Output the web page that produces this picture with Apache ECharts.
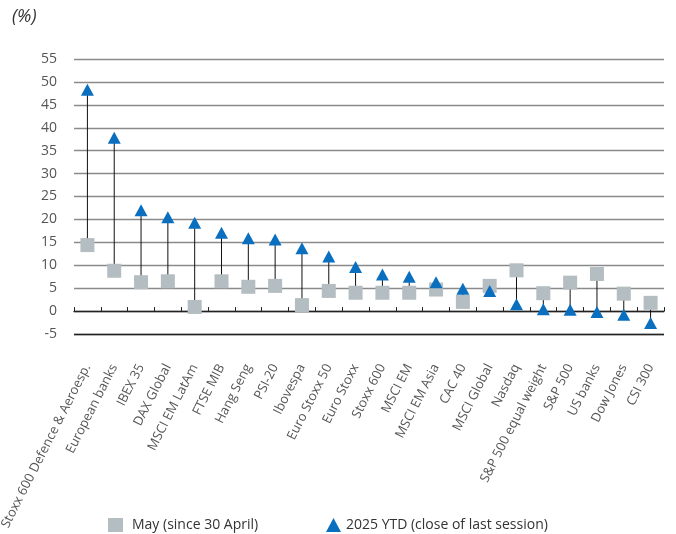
<!DOCTYPE html>
<html>
<head>
<meta charset="utf-8">
<script src="https://cdn.jsdelivr.net/npm/echarts@6/dist/echarts.min.js"></script>
<style>
  html, body { margin: 0; padding: 0; background: #fff; }
  #chart { width: 676px; height: 534px; }
</style>
</head>
<body>
<div id="chart"></div>
<script>
// Index names, ordered by year-to-date performance
const categories = [
  'Stoxx 600 Defence & Aeroesp.', 'European banks', 'IBEX 35', 'DAX Global',
  'MSCI EM LatAm', 'FTSE MIB', 'Hang Seng', 'PSI-20', 'Ibovespa',
  'Euro Stoxx 50', 'Euro Stoxx', 'Stoxx 600', 'MSCI EM', 'MSCI EM Asia',
  'CAC 40', 'MSCI Global', 'Nasdaq', 'S&P 500 equal weight', 'S&P 500',
  'US banks', 'Dow Jones', 'CSI 300'
];

// Change in May, since 30 April (%)
const mayValues = [
  14.4, 8.8, 6.3, 6.5, 0.9, 6.5, 5.3, 5.5, 1.3, 4.4, 4.0,
  4.0, 4.0, 4.7, 2.0, 5.5, 8.9, 3.9, 6.2, 8.1, 3.8, 1.8
];

// 2025 year to date, close of last session (%)
const ytdValues = [
  48.3, 37.8, 22.0, 20.5, 19.3, 17.1, 15.9, 15.6, 13.7, 11.9, 9.6,
  8.0, 7.5, 6.3, 4.9, 4.4, 1.5, 0.4, 0.3, -0.2, -0.8, -2.6
];

const yTicks = { min: -5, max: 55, step: 5 };

const seriesNames = ['May (since 30 April)', '2025 YTD (close of last session)'];

const FONT = '"Open Sans", sans-serif';

const chart = echarts.init(document.getElementById('chart'), null, { renderer: 'canvas' });

// connector stems between the two readings of each index
const stemData = categories.map((c, i) => [i, mayValues[i], ytdValues[i]]);

const legendText = { fontFamily: FONT, fontSize: 14, color: '#333333' };

chart.setOption({
  animation: false,
  backgroundColor: '#ffffff',
  textStyle: { fontFamily: FONT },
  graphic: [{
    type: 'text',
    left: 12,
    top: 8,
    style: {
      text: '(%)',
      font: 'italic 18px ' + FONT,
      fill: '#333333'
    }
  }],
  grid: { left: 74, right: 12, top: 59, bottom: 200, outerBoundsMode: 'none', containLabel: false },
  legend: [
    {
      left: 108,
      top: 518,
      padding: 0,
      itemWidth: 15,
      itemHeight: 14,
      textStyle: Object.assign({ padding: [0, 0, 0, 4] }, legendText),
      data: [{ name: seriesNames[0], icon: 'rect' }]
    },
    {
      left: 326,
      top: 518,
      padding: 0,
      itemWidth: 15,
      itemHeight: 14,
      textStyle: legendText,
      data: [{ name: seriesNames[1], icon: 'triangle' }]
    }
  ],
  xAxis: {
    // sits on the zero line, tick marks pointing up, names hang below the frame
    type: 'category',
    data: categories,
    boundaryGap: true,
    axisLine: { onZero: true, lineStyle: { color: '#222222', width: 1.3 } },
    axisTick: { show: true, inside: true, length: 4, lineStyle: { color: '#222222', width: 1 } },
    axisLabel: {
      interval: 0,
      rotate: 63,
      margin: 31,
      fontFamily: FONT,
      fontSize: 13,
      color: '#555555'
    },
    splitLine: { show: false }
  },
  yAxis: {
    type: 'value',
    min: yTicks.min,
    max: yTicks.max,
    interval: yTicks.step,
    axisLine: { show: false },
    axisTick: { show: false },
    axisLabel: { margin: 17, fontFamily: FONT, fontSize: 14, color: '#555555' },
    splitLine: { show: true, lineStyle: { color: '#8a8a8a', width: 1.3 } }
  },
  series: [
    {
      type: 'custom',
      z: 1,
      silent: true,
      data: stemData,
      encode: { x: 0, y: [1, 2] },
      renderItem: function (params, api) {
        const a = api.coord([api.value(0), api.value(1)]);
        const b = api.coord([api.value(0), api.value(2)]);
        return {
          type: 'line',
          shape: { x1: a[0], y1: a[1], x2: b[0], y2: b[1] },
          style: { stroke: '#111111', lineWidth: 1 }
        };
      }
    },
    {
      name: seriesNames[0],
      type: 'scatter',
      z: 2,
      symbol: 'rect',
      symbolSize: 14,
      itemStyle: { color: '#b4bdc1', opacity: 1 },
      data: mayValues,
      // dark frame line along the bottom of the plot
      markLine: {
        silent: true,
        symbol: 'none',
        label: { show: false },
        lineStyle: { color: '#222222', type: 'solid', width: 1.3 },
        data: [{ yAxis: yTicks.min }]
      }
    },
    {
      name: seriesNames[1],
      type: 'scatter',
      z: 3,
      symbol: 'triangle',
      symbolSize: [13, 12],
      itemStyle: { color: '#0a6fbf', opacity: 1 },
      data: ytdValues
    }
  ]
});
</script>
</body>
</html>
